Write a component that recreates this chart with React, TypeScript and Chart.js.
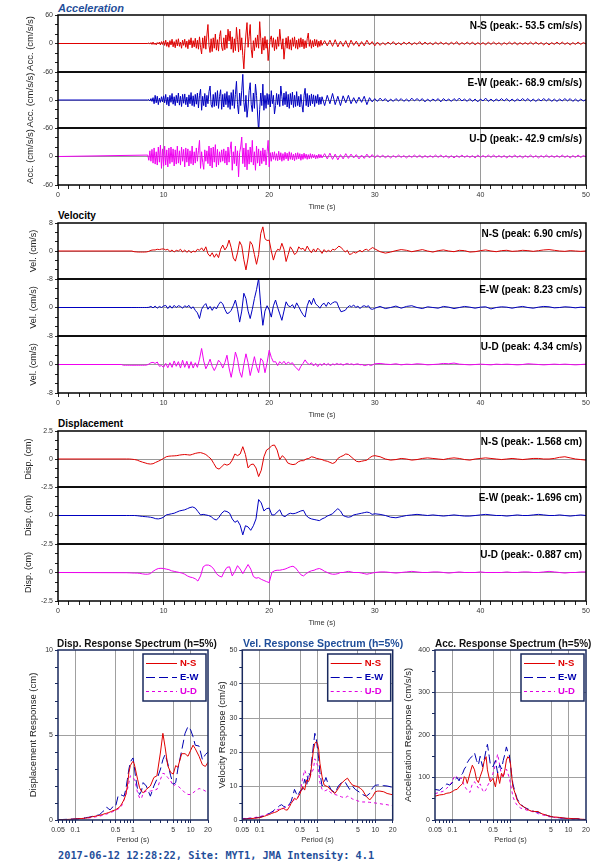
import React, { useEffect, useRef } from 'react';
import { Chart, registerables } from 'chart.js';
Chart.register(...registerables);

const FONT = "'Liberation Sans', Arial, Helvetica, sans-serif";
const RED = '#e00000';
const BLUE = '#0000c0';
const MAG = '#f000f0';
const NAVY = '#1a2a5e';
const TITLE_BLUE = '#1f4e9a';

// ---------------- Time histories ----------------
// Acceleration (cm/s/s): main part t = 8.5 .. 25.0 step 0.1, tail t = 25.25 .. 50 step 0.25
const ACC_T0 = 8.5, ACC_DT = 0.1, ACC_TAIL_T0 = 25.25, ACC_TAIL_DT = 0.25;
const accNS = [0,1,-1,2,-2,
3,-2,1,-3,2,-1,3,-3,4,-2,
5,-4,7,-6,3,-8,6,-3,9,-7,
4,-9,8,-5,10,-6,3,-10,7,-4,
9,-8,5,-11,8,-3,12,-9,6,-7,
11,-10,7,-12,14,-8,-22,12,-10,16,
-12,18,40,-5,-19,10,-17,12,-10,20,
-14,8,-16,15,27,-8,-15,12,-13,18,
-10,30,5,26,-12,14,-19,10,-15,34,
8,-18,30,-14,12,-25,-53.5,-10,20,44,
-8,15,40,-12,-30,6,-15,12,-8,18,
-10,46,10,-22,12,-14,15,-10,8,-36,
-12,9,16,-8,12,-15,8,-12,14,-6,
30,5,-12,10,-33,-8,12,-10,15,-12,
8,-14,12,-6,14,-10,7,-12,10,-8,
12,-7,9,-11,6,-9,10,22,-6,8,
-10,6,-7,9,-5,8,-8,5,-6,7,
-4];
const accNSTail = [6,-5,7,-6,8,-7,5,-6,6,-8,7,-4,5,-6,4,-5,7,-3,4,-5,
3,-4,2,-3,3,-2,4,-3,2,-3,3,-2,3,-3,2,-2,4,-3,3,-2,
2,-3,3,-2,3,-2,2,-3,3,-2,4,-3,2,-2,3,-2,3,-3,2,-2,
2,-3,3,-2,3,-2,2,-3,2,-2,3,-2,3,-3,2,-2,2,-2,3,-2,
3,-2,2,-3,2,-3,2,-2,3,-2,3,-2,2,-3,2,-2,3,-2,2,-1];
const accEW = [0,1,-2,3,-3,
5,-8,10,-6,8,-10,4,-5,7,-4,
9,-6,12,-10,6,-13,10,-5,14,-9,
7,-12,10,-6,15,-11,8,-14,12,-7,
13,-10,6,-15,11,-8,16,-12,9,-14,
12,-9,15,-17,10,23,-22,8,-12,14,
-15,10,-8,18,30,-10,-16,12,-14,16,
-12,20,-18,8,22,-20,12,-15,14,-10,
18,-16,10,-20,16,-12,22,-18,12,40,
-10,-30,15,-12,20,55,-5,-25,10,-37,
-15,20,37,-10,-25,15,-18,34,10,-30,
-68.9,-20,15,-12,34,-22,10,-18,14,-10,
12,-15,20,-8,10,-30,-12,14,-10,12,
-14,30,8,-12,15,-10,18,-15,12,-18,
14,-10,17,-16,10,-14,18,-12,8,-15,
12,-10,-26,10,25,-12,14,-15,10,-12,
13,-8,11,-14,9,-7,12,-10,6,-9,
7];
const accEWTail = [-12,10,-8,14,-10,8,-12,9,-6,10,-8,5,-7,6,-5,8,-10,5,-4,3,
-3,4,-2,3,-4,2,-3,3,-2,3,-3,2,-3,4,-2,3,-2,3,-4,2,
-3,2,-2,3,-4,3,-2,2,-3,3,-2,4,-2,2,-3,3,-3,2,-4,2,
-2,4,-3,2,-3,2,-2,3,-2,3,-3,2,-3,2,-2,3,-2,3,-3,2,
-3,2,-2,3,-2,3,-3,2,-3,2,-2,3,-2,3,-3,2,-3,2,-2,1];
const accUD = [3,-8,12,-10,15,
-14,18,-16,10,-18,20,-12,24,-25,16,
-20,22,-18,14,-22,18,-15,20,-12,16,
-20,14,-16,22,-14,12,-18,20,-10,15,
-22,18,-12,16,-20,12,-15,22,-18,10,
-14,18,-10,12,34,-25,10,-12,-27,14,
-10,12,-15,22,-20,18,-24,20,-12,25,
-22,15,-18,10,-12,14,-10,16,-14,12,
-18,20,-12,15,31,-29,10,-15,22,-20,
12,-42.9,8,20,41,-15,18,-22,28,-28,
14,-16,20,-12,34,-18,10,-29,22,-14,
16,-20,12,-15,18,-10,14,-18,10,34,
-22,8,-10,9,-6,10,-8,6,-9,11,
-7,8,-10,6,-8,9,-5,7,-9,10,
-6,8,-7,5,-9,7,-6,8,-5,6,
-8,5,-6,7,-4,5,-6,4,-5,6,
-4,5,-3,4,-5,3,-4,5,-3,4,
-3];
const accUDTail = [6,-5,7,-6,5,-7,4,-5,6,-4,5,-3,4,-5,3,-4,5,-3,4,-3,
3,-2,3,-3,2,-3,2,-2,3,-2,2,-3,2,-2,3,-2,3,-3,2,-2,
2,-2,3,-2,3,-2,2,-3,2,-3,2,-2,3,-2,2,-2,2,-3,3,-2,
2,-2,3,-2,3,-2,2,-2,2,-3,2,-2,3,-2,2,-3,2,-2,3,-2,
2,-3,2,-2,3,-2,2,-2,2,-2,3,-2,2,-3,2,-2,3,-2,2,-1];

// Velocity (cm/s): main t0 .. 30 step 0.2, tail 30.5 .. 50 step 0.5
const VEL_T0 = 7.0, VEL_UD_T0 = 6.0, VEL_DT = 0.2, VEL_TAIL_T0 = 30.5, VEL_TAIL_DT = 0.5;
const velNS = [0,-0.2,-0.25,-0.3,-0.3, -0.3,-0.3,-0.25,-0.1,0.2, 0.3,0.3,0.5,0.4,0.55,
0.6,0.3,0.5,-0.2,0.3, -0.3,0.2,0,0.5,-0.3, 0.3,-0.4,0.2,-0.5,0, -0.3,0.5,0.2,0.9,0,
1.2,-0.8,-1.5,-0.5,-1.8, -0.8,-1.9,0.5,1.7,0.3, 1.2,3.1,1.0,-2.0,-2.9, -0.5,2.7,1.5,-2.5,-5.4,
-2.0,2.7,1.8,-1.0,-3.8, -1.0,5.0,6.9,3.5,3.0, 3.1,0,-2.6,-0.5,0.5, 0.2,2.2,0.5,-3.0,-1.0,
1.2,0.3,-1.0,-0.5,1.2, 0.5,0.8,0,1.4,0.3, -0.5,0.6,-0.3,0.8,0.2, -0.7,0.4,-0.3,0.2,-0.2,
0.5,0.3,0.8,1.4,1.0, 0.4,-0.3,0.2,-1.0,-0.8, -0.3,-0.6,-0.2,0.2,-0.3, 0.3,0.5,0.1,0.6,1.0,
0.6];
const velNSTail = [-0.2,-0.6,-0.3,0.1,0.4,0.2,-0.2,0.1,0.4,0,-0.3,0.1,0.3,0,-0.2,0.2,0.1,-0.3,-0.2,0.1,
0.3,0,-0.2,0.1,0.2,-0.1,0,0.2,0.1,-0.1,0.1,0.3,0.4,0.2,0,-0.1,0.1,0,-0.1,0];
const velEW = [0,0,0,0,0, 0,0,0,0.05,0.3, -0.1,0.4,-0.2,0.3,0,
0.4,0.6,-0.3,0.5,-0.2, 0.6,0,0.5,0.3,-0.2, 0.5,0.1,0.6,-0.3,0.2, -0.8,-1.5,-3.1,-0.5,0.5,
1.1,-0.5,0.3,-0.8,0.2, -0.4,0.8,1.6,1.0,-0.5, -1.7,-1.5,-0.8,0.5,2.1, -0.5,-4.1,-1.0,4.0,2.5,
-1.0,-3.1,-0.5,2.5,5.0, 8.2,0.5,-5.0,-1.0,0.5, -0.7,-2.7,0.5,2.1,0, -1.8,-3.6,-1.0,1.6,0.5,
0.2,0.8,-0.3,1.3,0.2, -1.0,-2.0,-2.7,0.5,2.1, 0.8,2.6,1.0,0.5,-0.2, 0.8,1.2,0.3,1.5,0.8,
1.3,1.6,1.5,0,-1.2, -1.0,-0.8,0,0.5,0.2, 0.7,0,0.4,-0.3,0.3, 0.5,0.2,0.5,-0.4,-0.5,
-0.2];
const velEWTail = [0.3,-0.3,0,0.4,-0.2,0.3,0.5,0,-0.3,0.2,0,-0.2,0.3,0.1,-0.3,0,0.3,0.1,-0.2,0.1,
0.2,-0.4,0,0.2,0.1,-0.2,0.1,0.3,0,-0.2,0.1,0.3,0.2,-0.1,0,0.2,0.1,-0.1,0.1,0];
const velUD = [0,-0.2,-0.2,-0.2,-0.2,
-0.2,-0.2,-0.2,-0.2,-0.2, -0.2,-0.2,-0.15,0.1,0.5, 0.6,0.3,0.7,-0.5,-0.3,
-0.8,0.3,-0.9,0.5,-0.8, 1.0,-0.5,0.8,-1.0,1.2, -0.8,0.9,-1.1,0.8,-1.0, 0.5,-0.8,1.5,4.5,1.0,
-1.2,0,1.5,-0.5,-1.7, -0.5,1.2,0.5,-1.0,0.5, 2.6,-1.0,-3.6,-0.5,3.5, 1.5,-2.0,-3.6,0,3.0,
0.5,-3.1,-0.5,2.2,-0.5, -2.3,1.7,1.0,-2.3,0.5, 4.0,2.0,0.7,0.8,-0.3, 0.8,0.2,0.9,0,0.7,
0.2,0.5,-0.5,-1.0,-1.7, -0.5,0.3,1.3,0.4,0, 0.5,-0.4,0.3,-0.6,0.2, -0.3,0.4,-0.2,0.3,-0.4,
0.2,-0.1,0.3,0,0.2, -0.2,0.1,0.3,0,0.2, -0.1,0.1,0.2,-0.1,0, -0.3,-0.2,0,-0.3,-0.1,
0.2];
const velUDTail = [0.3,0.1,0,0.2,-0.1,0.1,0,0.2,0.1,-0.1,0,0.1,0.3,0.2,0.4,0.1,0,-0.1,0,0.1,
0,-0.1,0.1,0,0.1,0,-0.1,0,0.2,0.1,0,-0.1,0,0.1,0,0.1,0,-0.1,0,0.1];

// Displacement (cm): main 6.5 .. 30 step 0.25, tail 30.5 .. 50 step 0.5
const DISP_T0 = 6.5, DISP_DT = 0.25, DISP_TAIL_T0 = 30.5, DISP_TAIL_DT = 0.5;
const dispNS = [0,0,-0.02,-0.05, -0.1,-0.2,-0.28,-0.35, -0.42,-0.45,-0.42,-0.3, -0.2,-0.08,0.05,0.2,
0.25,0.27,0.28,0.3, 0.35,0.38,0.4,0.38, 0.35,0.42,0.5,0.55, 0.57,0.5,0.4,0.2,
0,-0.4,-0.8,-0.9, -0.7,-0.45,-0.55,-0.45, -0.1,0.45,0.3,0.45, 1.1,0.4,-0.8,-0.5,
-0.45,-0.8,-1.57,-1.0, 0.2,0.8,0.95,1.2, 1.25,0.8,-0.05,0.3, 0.05,-0.35,-0.45,-0.5,
-0.45,-0.25,-0.15,-0.15, 0,0.05,0.2,0.15, 0.05,0,-0.05,-0.15, -0.2,-0.3,-0.4,-0.3,
0.05,0.2,0.3,0.45, 0.4,0.2,0,-0.2, -0.25,-0.2,-0.15,-0.1, 0.1,0.25,0.3];
const dispNSTail = [0.2,0,-0.1,-0.05,0.05,0,-0.1,-0.05,0.05,0.1,0.05,0,-0.05,0.05,0.1,0.05,-0.05,-0.1,0,0.05,
0.1,0.05,0,-0.05,0,0.05,0,-0.05,0,0.05,0.05,0,0,0.05,0.15,0.2,0.1,0,-0.05,-0.1];
const dispEW = [0,0,0,0, -0.02,-0.05,-0.08,-0.1, -0.12,-0.15,-0.2,-0.28, -0.3,-0.25,-0.15,0.05,
0.1,0.15,0.2,0.3, 0.4,0.45,0.5,0.6, 0.7,0.75,0.65,0.35, 0.05,0.1,0.05,0,
-0.1,-0.3,-0.4,-0.15, 0.2,0.4,0.35,0.2, -0.3,-0.6,-0.45,-0.85, -1.7,-0.9,-1.0,-1.3,
-0.9,-0.3,1.4,1.1, 0.4,0.6,0.65,0.05, 0.05,0.3,0.5,0, -0.1,0.1,0.2,0.15,
0.2,0.3,0.4,0.45, 0,-0.2,-0.3,-0.35, -0.4,-0.45,-0.3,-0.2, -0.05,0.05,0.15,0.4,
0.6,0.4,0,-0.1, -0.15,-0.1,0.05,0.1, 0.15,0.2,0.25,0.3, 0.25,0.1,0.15];
const dispEWTail = [0.1,0,-0.15,-0.2,-0.1,0,0.05,0.1,0.05,0,0.05,0,-0.05,0,0.05,0,-0.05,-0.05,0,0.05,
0.1,0.05,0,0,-0.05,0,0.05,0,0,0.05,0.1,0.05,0,0,0.05,0,-0.05,0,0.05,0];
const dispUD = [-0.02,-0.03,-0.04,-0.05, -0.05,-0.08,-0.12,-0.15, -0.15,-0.1,0.1,0.25, 0.35,0.37,0.35,0.3,
0.25,0.15,0.1,0.05, 0,-0.05,-0.15,-0.3, -0.4,-0.45,-0.55,-0.75, -0.3,0.5,0.65,0.65,
0.55,0.3,-0.1,-0.3, -0.4,0.1,0.45,0.5, -0.3,0.1,0.6,0.3, -0.1,0.3,0.7,0.3,
-0.35,-0.5,-0.45,-0.6, -0.7,-0.8,-0.887,0, 0.15,0.2,0.2,0.25, 0.3,0.4,0.5,0.55,
0.4,0.1,-0.2,-0.3, -0.1,0.05,0.15,0.2, 0.3,0.35,0.25,0.1, 0,-0.1,-0.15,-0.15,
-0.1,0,0,0.05, 0.1,0.05,0,0, 0,-0.05,-0.1,-0.15, -0.1,-0.05,0];
const dispUDTail = [0.05,0.05,0,-0.05,0,0.05,0.1,0.05,0,0,0.05,0.05,0,-0.05,0,0.05,0,0,0,0.05,
0,0,0,0,0.05,0,0,0.05,0.05,0,0,0.05,0.1,0.05,0,-0.05,0,0,0.05,0.05];

const ACC_PEAKS = ['N-S (peak:- 53.5 cm/s/s)', 'E-W (peak:- 68.9 cm/s/s)', 'U-D (peak:- 42.9 cm/s/s)'];
const VEL_PEAKS = ['N-S (peak: 6.90 cm/s)', 'E-W (peak: 8.23 cm/s)', 'U-D (peak: 4.34 cm/s)'];
const DISP_PEAKS = ['N-S (peak:- 1.568 cm)', 'E-W (peak:- 1.696 cm)', 'U-D (peak:- 0.887 cm)'];
const TIME_TICK_LABELS = [0, 10, 20, 30, 40, 50];

// ---------------- Response spectra (h=5%) ----------------
const PERIODS = [0.05,0.06,0.07,0.08,0.09,0.1,0.11,0.12,0.13,0.14,0.15,0.16,0.17,0.18,0.2,0.22,0.24,0.26,0.28,0.3,0.33,0.35,0.38,0.4,0.43,0.45,0.5,0.55,0.6,0.65,0.7,0.75,0.8,0.85,0.9,0.95,1.0,1.05,1.1,1.2,1.3,1.4,1.5,1.7,2.0,2.3,2.6,3.0,3.3,3.6,4.0,4.5,5.0,5.5,6.0,7.0,8.0,9.0,10,11,12,14,16,18,20];
const sdNS = [0.01,0.02,0.03,0.04,0.05,0.06,0.07,0.08,0.09,0.1,0.11,0.12,0.14,0.16,0.2,0.22,0.25,0.27,0.3,0.33,0.38,0.4,0.44,0.47,0.52,0.55,0.6,0.7,0.8,1.0,1.2,1.5,2.0,2.8,3.2,3.35,3.45,3.3,3.0,2.4,1.9,1.7,1.6,1.8,2.0,2.5,2.6,4.0,5.1,4.3,3.2,2.8,2.7,3.2,3.1,3.9,3.9,3.75,4.1,4.4,4.2,3.75,3.25,3.15,3.4];
const sdEW = [0.02,0.03,0.04,0.05,0.06,0.07,0.08,0.09,0.1,0.12,0.13,0.15,0.16,0.18,0.22,0.25,0.28,0.3,0.4,0.5,0.6,0.75,0.65,0.6,0.7,0.8,0.8,1.4,1.5,1.45,1.4,1.8,2.4,3.0,3.4,3.55,3.65,3.2,2.6,1.8,1.5,1.7,2.2,2.0,1.4,2.0,2.4,3.0,3.55,3.85,3.35,2.6,2.1,2.2,3.0,4.1,5.1,5.5,5.3,4.9,4.4,4.35,3.55,3.85,4.0];
const sdUD = [0.01,0.02,0.02,0.03,0.04,0.05,0.06,0.07,0.08,0.09,0.1,0.11,0.12,0.13,0.16,0.18,0.2,0.22,0.25,0.28,0.32,0.35,0.4,0.42,0.46,0.5,0.55,0.65,0.7,0.9,1.2,1.5,1.8,2.2,2.6,2.55,2.5,2.4,2.2,1.6,1.3,1.25,1.6,1.7,1.7,1.75,1.8,2.4,2.75,2.7,2.5,2.3,2.0,2.1,2.0,1.8,1.6,1.5,1.5,1.6,1.7,1.85,1.8,1.7,1.65];
const svNS = [0.2,0.3,0.4,0.5,0.6,0.7,0.9,1.1,1.3,1.5,1.7,1.9,2.1,2.2,2.5,3.0,3.3,3.4,3.0,2.9,4.0,4.9,5.8,6.4,6.0,6.4,7.8,9.8,8.8,11.8,11.3,12.7,16.7,20.6,22.5,23.0,22.5,20.6,16.7,12.7,10.3,10.0,9.8,8.8,7.8,9.3,10.8,11.8,12.3,11.3,10.3,10.0,9.8,9.3,8.8,6.9,5.9,6.9,8.3,8.5,8.5,8.3,7.8,7.6,7.4];
const svEW = [0.3,0.4,0.5,0.6,0.7,0.8,1.0,1.2,1.5,1.8,2.0,2.3,2.6,3.0,3.5,4.2,4.5,4.0,3.8,3.8,4.8,5.5,7.5,9.0,7.8,7.0,8.5,9.0,12.0,10.0,14.0,13.0,18.0,22.0,25.5,24.0,21.0,18.0,14.0,10.0,11.0,12.5,11.0,9.0,8.0,10.0,11.0,11.2,10.0,9.0,10.0,9.0,8.5,8.0,7.5,7.0,7.8,9.5,10.2,10.3,10.3,10.1,10.0,9.8,9.5];
const svUD = [0.4,0.5,0.6,0.7,0.85,1.0,1.2,1.4,1.6,1.8,2.2,2.3,2.5,2.7,3.0,3.2,3.4,3.5,3.7,4.0,4.5,5.0,5.6,6.0,6.3,6.5,8.0,12.0,14.7,13.0,12.0,13.0,14.0,15.0,18.0,17.2,16.0,14.0,11.0,9.0,8.5,8.7,9.0,8.0,7.5,7.2,6.8,6.5,7.0,6.8,6.2,5.9,5.6,5.4,5.3,5.3,5.2,5.1,5.0,4.9,4.8,4.6,4.5,4.3,4.2];
const saNS = [56,59,60,63,64,67,71,72,78,82,86,102,98,86,110,129,118,95,88,102,118,137,149,118,98,90,98,78,110,86,110,102,118,141,149,145,133,102,78,63,47,40,35,31,24,21,20,20,16,14,12,10,8,7,7,6,5,4,4,3.5,3,3,2,1.5,1];
const saEW = [72,70,78,85,82,88,95,100,92,105,110,120,125,135,145,150,158,140,130,150,125,140,165,178,150,130,125,140,110,130,120,140,155,172,160,155,130,105,85,65,50,43,38,30,26,22,20,18,16,14,12,10,8,7,6,5,4.5,4,4,3.5,3,3,2,1.5,1];
const saUD = [62,65,68,75,82,92,105,100,95,100,90,80,75,70,65,85,90,82,75,85,70,65,72,80,88,95,110,130,155,130,105,100,115,120,110,100,85,70,55,42,35,31,28,26,22,20,19,15,13,12,10,8,7,6,5.5,5,4,3.5,3,2.5,2,2,1.5,1.2,1];

const PERIOD_TICKS = [0.05,0.06,0.07,0.08,0.09,0.1,0.2,0.3,0.4,0.5,0.6,0.7,0.8,0.9,1,2,3,4,5,6,7,8,9,10,20];
const PERIOD_LABELS = [0.05, 0.1, 0.5, 1, 5, 10, 20];
const PERIOD_GRID = [0.1, 0.5, 1, 5, 10];
const COMPONENTS = ['N-S', 'E-W', 'U-D'];

// ---------------- helpers ----------------
function buildSeries(t0: number, dt: number, vals: number[], tt0: number, tdt: number, tail: number[]) {
  const pts: { x: number; y: number }[] = [{ x: 0, y: 0 }];
  vals.forEach((v, i) => pts.push({ x: +(t0 + i * dt).toFixed(4), y: v }));
  tail.forEach((v, i) => pts.push({ x: +(tt0 + i * tdt).toFixed(4), y: v }));
  return pts;
}
const near = (a: number, b: number) => Math.abs(a - b) < 1e-6;
const inList = (v: number, list: number[]) => list.some((l) => Math.abs(v - l) < 1e-9 * Math.max(1, l));

const framePlugin = (color: string, lw: number) => ({
  id: 'frame',
  afterDraw(chart: any) {
    const { ctx, chartArea: a } = chart;
    ctx.save();
    ctx.strokeStyle = color;
    ctx.lineWidth = lw;
    ctx.strokeRect(a.left, a.top, a.right - a.left, a.bottom - a.top);
    ctx.restore();
  },
});

const peakPlugin = (text: string) => ({
  id: 'peak',
  afterDraw(chart: any) {
    const { ctx, chartArea: a } = chart;
    ctx.save();
    ctx.font = `bold 10px ${FONT}`;
    ctx.fillStyle = '#000';
    ctx.textAlign = 'right';
    ctx.textBaseline = 'middle';
    ctx.fillText(text, a.right - 4, a.top + 10.8);
    ctx.restore();
  },
});

const legendPlugin = {
  id: 'boxLegend',
  afterDraw(chart: any) {
    const { ctx, chartArea: a } = chart;
    const w = 63, h = 47;
    const x = a.right - 2 - w, y = a.top + 4;
    ctx.save();
    ctx.fillStyle = '#fff';
    ctx.fillRect(x, y, w, h);
    ctx.strokeStyle = NAVY;
    ctx.lineWidth = 1.5;
    ctx.strokeRect(x, y, w, h);
    chart.data.datasets.forEach((ds: any, i: number) => {
      const yy = y + 9.5 + i * 14;
      ctx.strokeStyle = ds.borderColor;
      ctx.lineWidth = 1;
      ctx.setLineDash(ds.borderDash || []);
      ctx.beginPath();
      ctx.moveTo(x + 3, yy);
      ctx.lineTo(x + 34, yy);
      ctx.stroke();
      ctx.setLineDash([]);
      ctx.fillStyle = ds.borderColor;
      ctx.font = `bold 9.5px ${FONT}`;
      ctx.textAlign = 'left';
      ctx.textBaseline = 'middle';
      ctx.fillText(ds.label, x + 37, yy);
    });
    ctx.restore();
  },
};

function ChartBox({ left, top, width, height, makeConfig }: any) {
  const ref = useRef<HTMLCanvasElement>(null);
  useEffect(() => {
    const chart = new Chart(ref.current as HTMLCanvasElement, makeConfig());
    return () => chart.destroy();
  }, []);
  return (
    <canvas
      ref={ref}
      width={width}
      height={height}
      style={{ position: 'absolute', left, top, width, height, display: 'block' }}
    />
  );
}

// ---------------- time panel config ----------------
const PAD = 40;
const X_AXIS_H = 28;

function timeConfig(p: any) {
  const { max, maxLabel, yTitle, titleX, titleSize, showTop, isBottom, data, color, peak } = p;
  const lh = titleSize * 1.2;
  return {
    type: 'line',
    data: {
      datasets: [{
        data, borderColor: color, borderWidth: 1, pointRadius: 0, pointHoverRadius: 0,
        fill: false, tension: 0, clip: 0, borderJoinStyle: 'round',
      }],
    },
    options: {
      responsive: false, animation: false, devicePixelRatio: 1, events: [],
      layout: { padding: { top: PAD, bottom: isBottom ? 0 : PAD, left: 0, right: 19 }, autoPadding: false },
      plugins: { legend: { display: false }, tooltip: { enabled: false }, title: { display: false } },
      scales: {
        x: {
          type: 'linear', min: 0, max: 50,
          ticks: {
            stepSize: 1, autoSkip: false, maxRotation: 0, minRotation: 0, display: isBottom,
            font: { size: 7, family: FONT }, color: '#333', padding: 1.8,
            callback: (v: number) => (TIME_TICK_LABELS.includes(v) ? String(v) : ''),
          },
          grid: {
            color: (c: any) => {
              const v = c.tick ? c.tick.value : -1;
              return v % 10 === 0 && v > 0 && v < 50 ? '#9a9a9a' : 'rgba(0,0,0,0)';
            },
            drawTicks: isBottom, tickLength: 4, tickColor: '#222', lineWidth: 1,
          },
          border: { display: false },
          title: {
            display: isBottom, text: 'Time (s)', font: { size: 7.5, family: FONT }, color: '#333',
            padding: { top: 0, bottom: 1.5 },
          },
          afterFit: (s: any) => { s.height = isBottom ? X_AXIS_H : 0; },
        },
        y: {
          type: 'linear', min: -max, max: max,
          ticks: {
            count: 7, autoSkip: false, font: { size: 7, family: FONT }, color: '#333', padding: 2,
            callback: (v: number) => {
              if (near(v, 0)) return '0';
              if (near(v, -max)) return '-' + maxLabel;
              if (showTop && near(v, max)) return maxLabel;
              return '';
            },
          },
          grid: {
            color: (c: any) => (c.tick && near(c.tick.value, 0) ? '#9a9a9a' : 'rgba(0,0,0,0)'),
            drawTicks: true, tickLength: 3, tickColor: '#222', lineWidth: 1,
          },
          border: { display: false },
          title: {
            display: true, text: yTitle, font: { size: titleSize, family: FONT }, color: '#222',
            padding: { top: titleX - lh / 2, bottom: 0 },
          },
          afterFit: (s: any) => { s.width = 58; },
        },
      },
    },
    plugins: [framePlugin('#000', 1.5), peakPlugin(peak)],
  };
}

// ---------------- spectrum config ----------------
const SPEC_TOP = 630, SPEC_H = 216, SPEC_PAD_TOP = 20, SPEC_X_H = 26;

function specConfig(s: any) {
  const lh = 9.5 * 1.2;
  const mk = (label: string, vals: number[], color: string, dash: number[]) => ({
    label, data: PERIODS.map((p, i) => ({ x: p, y: vals[i] })), borderColor: color, borderDash: dash,
    borderWidth: 1, pointRadius: 0, pointHoverRadius: 0, fill: false, tension: 0, clip: 0,
    borderJoinStyle: 'round',
  });
  return {
    type: 'line',
    data: {
      datasets: [
        mk(COMPONENTS[0], s.vals[0], RED, []),
        mk(COMPONENTS[1], s.vals[1], '#0000b0', [9, 4]),
        mk(COMPONENTS[2], s.vals[2], '#e000e0', [3, 3]),
      ],
    },
    options: {
      responsive: false, animation: false, devicePixelRatio: 1, events: [],
      layout: {
        padding: { top: SPEC_PAD_TOP, bottom: 0, left: 0, right: s.left + s.width - s.chartRight },
        autoPadding: false,
      },
      plugins: { legend: { display: false }, tooltip: { enabled: false } },
      scales: {
        x: {
          type: 'logarithmic', min: 0.05, max: 20,
          afterBuildTicks: (sc: any) => { sc.ticks = PERIOD_TICKS.map((v) => ({ value: v })); },
          ticks: {
            autoSkip: false, maxRotation: 0, minRotation: 0, font: { size: 7, family: FONT }, color: '#333', padding: 2.8,
            callback: (v: number) => (inList(v, PERIOD_LABELS) ? String(v) : ''),
          },
          grid: {
            color: (c: any) => (c.tick && inList(c.tick.value, PERIOD_GRID) ? '#a0a0a0' : 'rgba(0,0,0,0)'),
            tickColor: NAVY, tickLength: 3, lineWidth: 1,
          },
          border: { display: false },
          title: {
            display: true, text: 'Period (s)', font: { size: 7.5, family: FONT }, color: '#333',
            padding: { top: 0, bottom: 1.3 },
          },
          afterFit: (sc: any) => { sc.height = SPEC_X_H; },
        },
        y: {
          type: 'linear', min: 0, max: s.yMax,
          ticks: {
            stepSize: s.yStep, autoSkip: false, font: { size: 7, family: FONT }, color: '#333', padding: 2,
            callback: (v: number) => (near(v / s.yEvery, Math.round(v / s.yEvery)) ? String(v) : ''),
          },
          grid: {
            color: (c: any) => {
              const v = c.tick ? c.tick.value : 0;
              return v > 0 && v < s.yMax && near(v / s.yEvery, Math.round(v / s.yEvery)) ? '#a0a0a0' : 'rgba(0,0,0,0)';
            },
            tickColor: NAVY, tickLength: 3, lineWidth: 1,
          },
          border: { display: false },
          title: {
            display: true, text: s.yTitle, font: { size: 9.5, family: FONT }, color: '#222',
            padding: { top: s.titleX - s.left - lh / 2, bottom: 0 },
          },
          afterFit: (sc: any) => { sc.width = s.chartLeft - s.left; },
        },
      },
    },
    plugins: [framePlugin(NAVY, 1.5), legendPlugin],
  };
}

// ---------------- layout ----------------
const GROUPS = [
  {
    bounds: [15, 72, 128, 185], max: 60, maxLabel: '60', yTitle: 'Acc. (cm/s/s)', titleX: 30, titleSize: 9.5, peaks: ACC_PEAKS,
    series: [
      buildSeries(ACC_T0, ACC_DT, accNS, ACC_TAIL_T0, ACC_TAIL_DT, accNSTail),
      buildSeries(ACC_T0, ACC_DT, accEW, ACC_TAIL_T0, ACC_TAIL_DT, accEWTail),
      buildSeries(ACC_T0, ACC_DT, accUD, ACC_TAIL_T0, ACC_TAIL_DT, accUDTail),
    ],
  },
  {
    bounds: [223, 279, 336, 393], max: 8, maxLabel: '8', yTitle: 'Vel. (cm/s)', titleX: 33.5, titleSize: 9, peaks: VEL_PEAKS,
    series: [
      buildSeries(VEL_T0, VEL_DT, velNS, VEL_TAIL_T0, VEL_TAIL_DT, velNSTail),
      buildSeries(VEL_T0, VEL_DT, velEW, VEL_TAIL_T0, VEL_TAIL_DT, velEWTail),
      buildSeries(VEL_UD_T0, VEL_DT, velUD, VEL_TAIL_T0, VEL_TAIL_DT, velUDTail),
    ],
  },
  {
    bounds: [431, 487, 544, 601], max: 2.5, maxLabel: '2.5', yTitle: 'Disp. (cm)', titleX: 29, titleSize: 9, peaks: DISP_PEAKS,
    series: [
      buildSeries(DISP_T0, DISP_DT, dispNS, DISP_TAIL_T0, DISP_TAIL_DT, dispNSTail),
      buildSeries(DISP_T0, DISP_DT, dispEW, DISP_TAIL_T0, DISP_TAIL_DT, dispEWTail),
      buildSeries(DISP_T0, DISP_DT, dispUD, DISP_TAIL_T0, DISP_TAIL_DT, dispUDTail),
    ],
  },
];
const COLORS = [RED, BLUE, MAG];

const SPECS = [
  { left: 0, width: 215, chartLeft: 58, chartRight: 208, yMax: 10, yStep: 1, yEvery: 5, yTitle: 'Displacement Response (cm)', titleX: 33, vals: [sdNS, sdEW, sdUD] },
  { left: 215, width: 185, chartLeft: 242.3, chartRight: 392.7, yMax: 50, yStep: 5, yEvery: 10, yTitle: 'Velocity Response (cm/s)', titleX: 222.5, vals: [svNS, svEW, svUD] },
  { left: 400, width: 205, chartLeft: 435, chartRight: 586, yMax: 400, yStep: 50, yEvery: 100, yTitle: 'Acceleration Response (cm/s/s)', titleX: 408.5, vals: [saNS, saEW, saUD] },
];

const txt = (extra: any): any => ({ position: 'absolute', whiteSpace: 'nowrap', margin: 0, ...extra });

export default function App() {
  const panels: any[] = [];
  GROUPS.forEach((g, gi) => {
    for (let i = 0; i < 3; i++) {
      const t = g.bounds[i], b = g.bounds[i + 1];
      const isBottom = i === 2;
      const height = PAD + (b - t) + (isBottom ? X_AXIS_H : PAD);
      const p = {
        max: g.max, maxLabel: g.maxLabel, yTitle: g.yTitle, titleX: g.titleX, titleSize: g.titleSize,
        showTop: i === 0, isBottom, data: g.series[i], color: COLORS[i], peak: g.peaks[i],
      };
      panels.push(
        <ChartBox key={`t${gi}${i}`} left={0} top={t - PAD} width={605} height={height} makeConfig={() => timeConfig(p)} />
      );
    }
  });
  SPECS.forEach((s, si) => {
    panels.push(
      <ChartBox key={`s${si}`} left={s.left} top={SPEC_TOP} width={s.width} height={SPEC_H} makeConfig={() => specConfig(s)} />
    );
  });

  return (
    <div style={{ position: 'absolute', left: 0, top: 0, width: 605, height: 864, overflow: 'hidden', background: '#fff' }}>
      <div style={txt({ left: 58, top: 2, font: `italic bold 11px ${FONT}`, lineHeight: '13px', color: TITLE_BLUE })}>Acceleration</div>
      <div style={txt({ left: 58, top: 209.5, font: `bold 10px ${FONT}`, lineHeight: '12px', color: '#000' })}>Velocity</div>
      <div style={txt({ left: 58, top: 418, font: `bold 10px ${FONT}`, lineHeight: '12px', color: '#000' })}>Displacement</div>
      {panels}
      <div style={txt({ left: 57, top: 636.5, font: `bold 10px ${FONT}`, lineHeight: '13px', color: '#111' })}>Disp. Response Spectrum (h=5%)</div>
      <div style={txt({ left: 243, top: 636.5, font: `bold 10.5px ${FONT}`, lineHeight: '13px', color: TITLE_BLUE })}>Vel. Response Spectrum (h=5%)</div>
      <div style={txt({ left: 435, top: 636.5, font: `bold 10px ${FONT}`, lineHeight: '13px', color: '#111' })}>Acc. Response Spectrum (h=5%)</div>
      <div style={txt({ left: 58, top: 848, font: `bold 10.3px 'DejaVu Sans Mono', monospace`, lineHeight: '14px', color: TITLE_BLUE })}>
        2017-06-12 12:28:22, Site: MYT1, JMA Intensity: 4.1
      </div>
    </div>
  );
}
